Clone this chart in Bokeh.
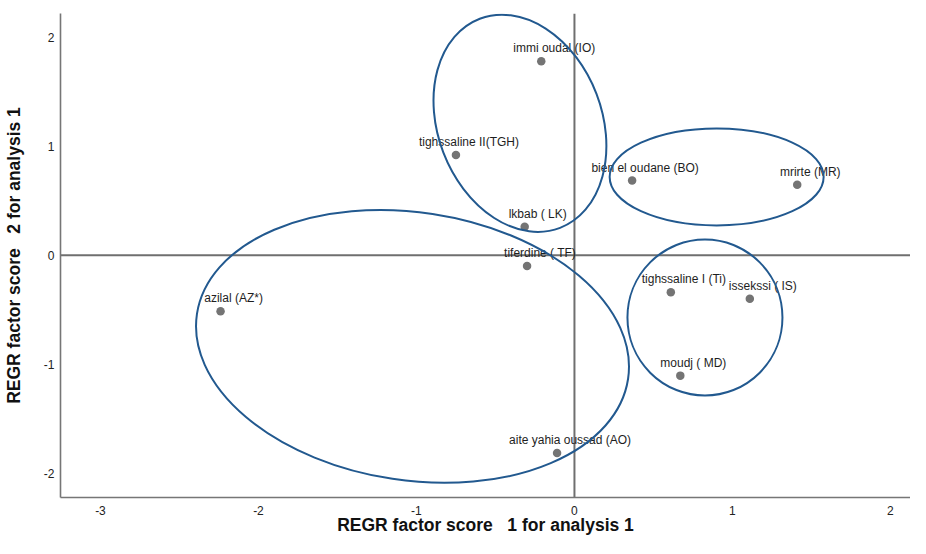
from bokeh.plotting import figure
from bokeh.models import Range1d, FixedTicker, Span, ColumnDataSource
from bokeh.core.properties import value
from bokeh.embed import file_html
from bokeh.resources import INLINE
import math

# ---- data ----
site_labels = ["immi oudal (IO)", "tighssaline II(TGH)", "bien el oudane (BO)", "mrirte (MR)",
               "lkbab ( LK)", "tiferdine ( TF)", "azilal (AZ*)", "aite yahia oussad (AO)",
               "tighssaline I (Ti)", "issekssi ( IS)", "moudj ( MD)"]
factor1 = [-0.21, -0.75, 0.365, 1.41, -0.315, -0.30, -2.24, -0.11, 0.61, 1.11, 0.67]
factor2 = [1.78, 0.92, 0.685, 0.645, 0.26, -0.10, -0.515, -1.815, -0.34, -0.40, -1.105]

# group ellipses (centres in factor-score units)
group_cx = [-0.345, 0.90, 0.826, -1.025]
group_cy = [1.21, 0.718, -0.572, -0.837]
x_ticks = [-3, -2, -1, 0, 1, 2]
y_ticks = [-2, -1, 0, 1, 2]

# ---- figure ----
FONT = "Liberation Sans"
p = figure(width=910, height=538, output_backend="svg", toolbar_location=None,
           x_range=Range1d(-3.253, 2.127), y_range=Range1d(-2.223, 2.217),
           min_border_left=60, min_border_right=0, min_border_top=13, min_border_bottom=41)
p.outline_line_color = None
p.grid.visible = False
p.background_fill_color = "white"
p.border_fill_color = "white"

for ax in (p.xaxis[0], p.yaxis[0]):
    ax.major_tick_line_color = None
    ax.minor_tick_line_color = None
    ax.major_tick_out = 0
    ax.major_tick_in = 0
    ax.axis_line_color = "#767676"
    ax.axis_line_width = 1.6
    ax.major_label_text_font = FONT
    ax.major_label_text_font_size = "12px"
    ax.major_label_text_color = "#222222"
    ax.axis_label_text_font = FONT
    ax.axis_label_text_font_size = "17.5px"
    ax.axis_label_text_font_style = "bold"
    ax.axis_label_text_color = "#111111"

p.xaxis.ticker = FixedTicker(ticks=x_ticks)
p.yaxis.ticker = FixedTicker(ticks=y_ticks)
p.xaxis.major_label_overrides = {t: str(t) for t in x_ticks}
p.yaxis.major_label_overrides = {t: str(t) for t in y_ticks}
p.xaxis.major_label_standoff = 8
p.yaxis.major_label_standoff = 6
p.xaxis.axis_label_standoff = -3
p.yaxis.axis_label_standoff = 17
p.xaxis.axis_label = "REGR factor score\u00a0\u00a0 1 for analysis 1"
p.yaxis.axis_label = "REGR factor score\u00a0\u00a0 2 for analysis 1"

# zero reference lines
p.add_layout(Span(location=0, dimension="height", line_color="#6f6f6f", line_width=2, level="underlay"))
p.add_layout(Span(location=0, dimension="width", line_color="#6f6f6f", line_width=2, level="underlay"))

src = ColumnDataSource(dict(x=factor1, y=factor2, label=site_labels))
p.scatter("x", "y", source=src, size=8.5, fill_color="#747474", line_color=None)
p.text("x", "y", text="label", source=src, text_font=value(FONT), text_font_size="12px",
       text_color="#1e1e1e", text_align="center", text_baseline="middle",
       x_offset=13, y_offset=-13)

# group ellipses: size in screen pixels, drawn around the clusters
ell_w = [224, 214, 155, 436]
ell_h = [164, 97, 156, 268]
ell_a = [-69 * math.pi / 180, 0, 0, -8.6 * math.pi / 180]
esrc = ColumnDataSource(dict(x=group_cx, y=group_cy, w=ell_w, h=ell_h, a=ell_a))
p.ellipse("x", "y", source=esrc, width="w", height="h", angle="a",
          width_units="screen", height_units="screen",
          fill_color=None, line_color="#22598f", line_width=2)

open("out.html", "w").write(file_html(p, INLINE))
